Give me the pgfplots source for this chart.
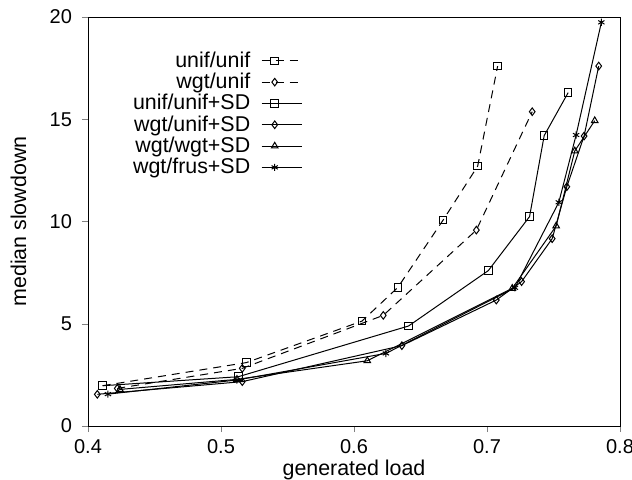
\documentclass[border=0pt]{standalone}
\usepackage{pgfplots}
\pgfplotsset{compat=1.18}
\usepackage{fontspec}
\setmainfont{Liberation Sans}

\begin{document}
\begin{tikzpicture}
\begin{axis}[
  scale only axis, width=266pt, height=204.5pt,
  xmin=0.4, xmax=0.8, ymin=0, ymax=20,
  xtick={0.4,0.5,0.6,0.7,0.8}, ytick={0,5,10,15,20},
  tick align=outside, xtick pos=bottom, ytick pos=left,
  major tick length=3pt,
  /pgf/number format/assume math mode=true,
  x tick label style={/pgf/number format/.cd, fixed, fixed zerofill, precision=1},
  tick label style={font=\fontsize{10}{12}\selectfont},
  yticklabel style={xshift=-1.5pt},
  label style={font=\fontsize{10.7}{12}\selectfont},
  xlabel={generated load}, ylabel={median slowdown},
  xlabel style={at={(axis description cs:0.5,0)}, anchor=base, yshift=-24.5pt},
  ylabel style={at={(axis description cs:-0.1306,0.5)}, anchor=center},
  every axis plot/.append style={black, line width=0.5pt, mark options={solid, fill=none}},
  legend style={draw=none, fill=none, at={(0.4147,0.936)}, anchor=north east,
    font=\fontsize{10.7}{12}\selectfont, row sep=-2.6pt},
  legend cell align=right, legend plot pos=right,
  legend image code/.code={\path (0pt,0pt);
    \draw[mark repeat=2, mark phase=2] plot coordinates {(3.5pt,0pt) (10pt,0pt) (23.5pt,0pt)};},
]
\coordinate (O) at (rel axis cs:0,0);
% unif/unif
\addplot[dashed, dash pattern=on 4pt off 3pt, mark=square, mark size=1.9pt] coordinates {
(0.411,1.97) (0.519,3.10) (0.606,5.13) (0.633,6.78) (0.667,10.07) (0.693,12.71) (0.708,17.60)};
\addlegendentry{unif/unif}
% wgt/unif
\addplot[dashed, dash pattern=on 4pt off 3pt, mark=diamond, mark size=1.9pt] coordinates {
(0.422,1.84) (0.516,2.82) (0.622,5.41) (0.692,9.58) (0.734,15.37)};
\addlegendentry{wgt/unif}
% unif/unif+SD
\addplot[mark=square, mark size=1.9pt] coordinates {
(0.411,1.97) (0.513,2.41) (0.641,4.89) (0.701,7.60) (0.732,10.24) (0.743,14.20) (0.761,16.30)};
\addlegendentry{unif/unif+SD}
% wgt/unif+SD
\addplot[mark=diamond, mark size=1.9pt] coordinates {
(0.407,1.55) (0.516,2.17) (0.636,3.93) (0.707,6.16) (0.726,7.06) (0.749,9.16) (0.760,11.70) (0.773,14.18) (0.784,17.60)};
\addlegendentry{wgt/unif+SD}
% wgt/wgt+SD
\addplot[mark=triangle, mark size=1.9pt] coordinates {
(0.424,1.79) (0.512,2.28) (0.610,3.19) (0.719,6.73) (0.752,9.78) (0.766,13.45) (0.781,14.93)};
\addlegendentry{wgt/wgt+SD}
% wgt/frus+SD
\addplot[mark=asterisk, mark size=1.8pt] coordinates {
(0.415,1.56) (0.512,2.25) (0.624,3.55) (0.721,6.76) (0.754,10.94) (0.767,14.23) (0.786,19.74)};
\addlegendentry{wgt/frus+SD}
\end{axis}
\pgfresetboundingbox
\path (O) ++(-44pt,-26.5pt) rectangle ++(316pt,239.5pt);
\end{tikzpicture}
\end{document}
